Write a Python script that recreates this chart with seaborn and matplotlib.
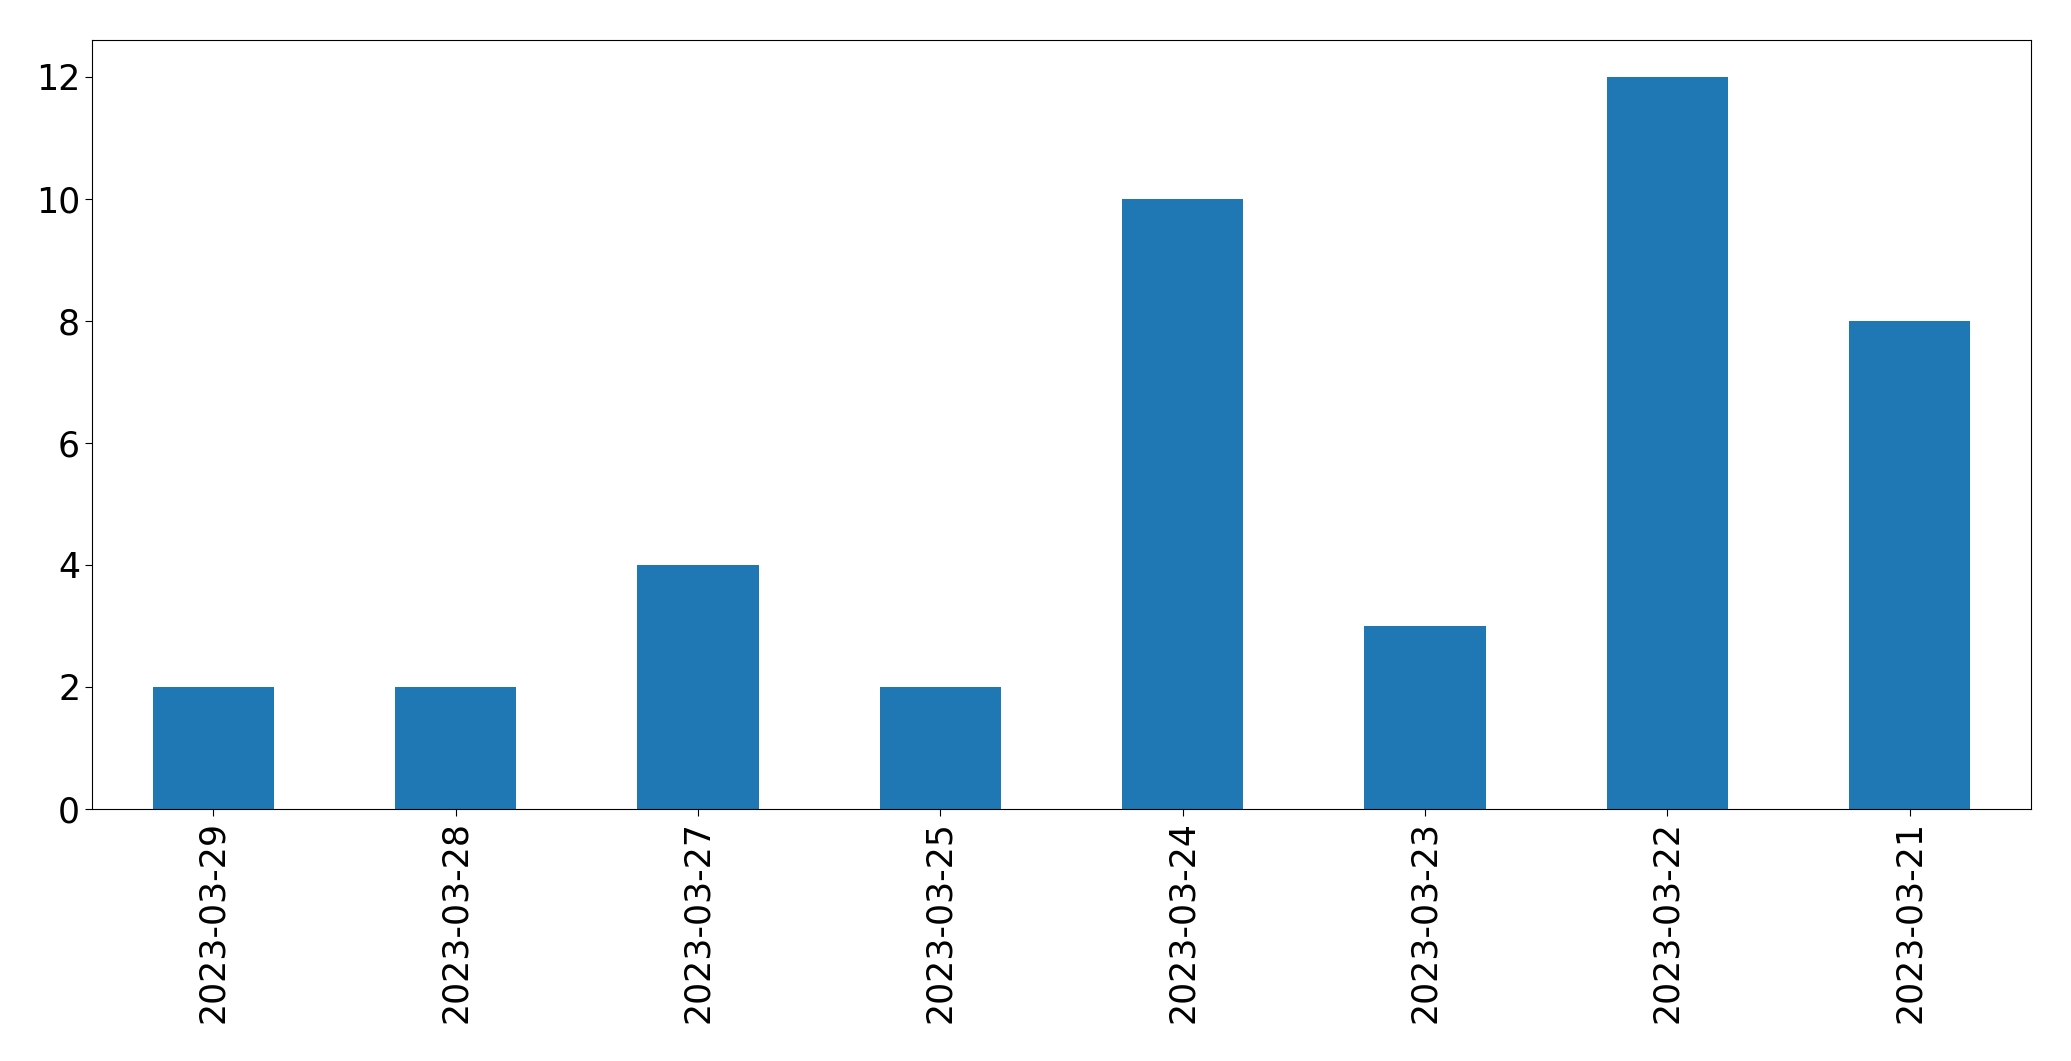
import pandas as pd
import seaborn as sns
import matplotlib
matplotlib.use("Agg")
import matplotlib.pyplot as plt

# data
dates = ["2023-03-29", "2023-03-28", "2023-03-27", "2023-03-25",
         "2023-03-24", "2023-03-23", "2023-03-22", "2023-03-21"]
counts = [2, 2, 4, 2, 10, 3, 12, 8]

df = pd.DataFrame({"date": dates, "count": counts})

fig = plt.figure(figsize=(20.71, 10.61), dpi=100)
ax = fig.add_axes([92 / 2071, 1 - 809 / 1061, (2031 - 92) / 2071, (809 - 40) / 1061])

sns.barplot(data=df, x="date", y="count", color="#1f77b4", saturation=1,
            width=0.5, ax=ax, order=dates)

ax.set_xlim(-0.5, len(dates) - 0.5)
ax.set_ylim(0, 12.6)
ax.set_xlabel("")
ax.set_ylabel("")
ax.tick_params(axis="both", labelsize=25, length=5)
ax.tick_params(axis="x", labelrotation=90)

fig.savefig("out.png", dpi=100)
